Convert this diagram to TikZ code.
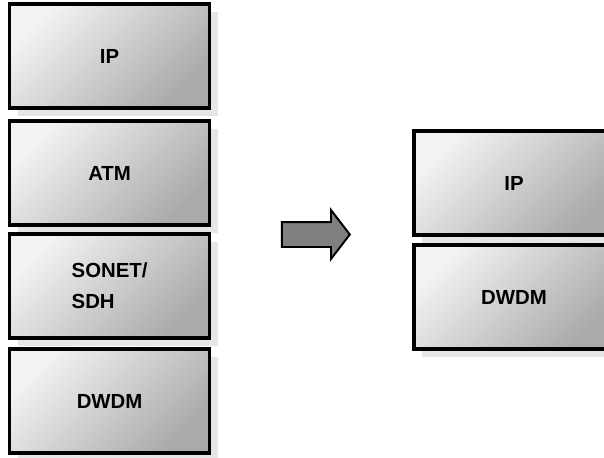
\documentclass[tikz,border=0pt]{standalone}
\usepackage{fontspec}
\setmainfont{Liberation Sans}
\usetikzlibrary{positioning,shapes.arrows,shadows}
\definecolor{boxlight}{HTML}{F3F3F3}
\definecolor{boxdark}{HTML}{AAAAAC}
\definecolor{shadowgray}{HTML}{E6E6E6}
\definecolor{arrowgray}{HTML}{808080}
\tikzset{
  layer/.style={draw=black,line width=2.2pt,top color=boxlight,bottom color=boxdark,
                shading angle=45,minimum width=5cm,minimum height=2.6cm,
                align=center,inner sep=0pt,
                font=\fontsize{14.5}{22}\selectfont\bfseries,
                drop shadow={shadow xshift=0.2cm,shadow yshift=-0.2cm,
                             fill=shadowgray,opacity=1,draw=none}},
  shiftarr/.style={single arrow,draw=black,line width=1.4pt,fill=arrowgray,
                   minimum height=1.7cm,inner xsep=0pt,inner ysep=0.2875cm,
                   single arrow head extend=0.3cm,single arrow tip angle=105}
}
\begin{document}
\begin{tikzpicture}[x=1cm,y=1cm]
    \path[use as bounding box] (0,0) rectangle (15.1,11.425);

    % old stack
    \node[layer] (ip) at (2.74,10.025) {IP};
    \node[layer] (atm) at (2.74,7.1) {ATM};
    \node[layer,align=left] (sonet) at (2.74,4.275) {SONET/\\SDH};
    \node[layer] (dwdm) at (2.74,1.4) {DWDM};

    \node[shiftarr] (shift) at (7.775,5.5625) {};

    % new stack
    \node[layer] (newip) at (12.85,6.85) {IP};
    \node[layer] (newdwdm) at (12.85,4.0) {DWDM};
  \end{tikzpicture}
\end{document}
